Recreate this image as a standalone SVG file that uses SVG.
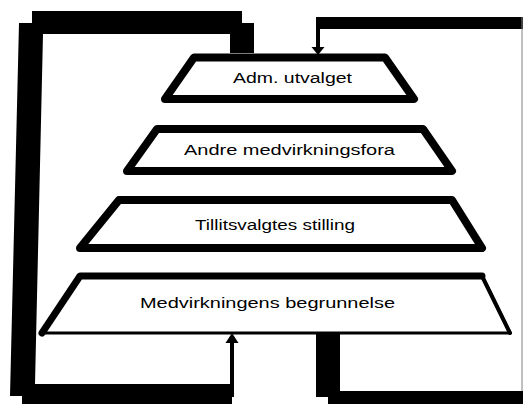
<svg xmlns="http://www.w3.org/2000/svg" width="523" height="404" viewBox="0 0 523 404">
<style>
.trap{fill:#fff;stroke:#000;stroke-width:8;stroke-linejoin:round;stroke-linecap:round}
.lbl{font-family:"Liberation Sans",Arial,sans-serif;font-size:14px;fill:#000}
.bar{fill:#000}
</style>
<rect width="523" height="404" fill="#fff"/>
<g id="connectors">
<polygon class="bar" points="32,11 242,11 242,23 254,23 254,53 230,53 230,34 43,34 35,384 232,384 232,404 22,404 22,396 10,396 19,23 32,23"/>
<line x1="232" y1="397" x2="232" y2="342" stroke="#000" stroke-width="4"/>
<polygon class="bar" points="225.5,343 238.5,343 232,333"/>
<rect class="bar" x="316" y="17" width="207" height="12"/>
<line x1="318" y1="20" x2="318" y2="48" stroke="#000" stroke-width="4"/>
<polygon class="bar" points="311.5,47 324.5,47 318,55"/>
<line x1="522" y1="17" x2="522" y2="392" stroke="#808080" stroke-width="1"/>
<polygon class="bar" points="316,334 340,334 340,391 523,391 523,404 328,404 328,397 316,397"/>
</g>
<g id="node-adm">
<polygon class="trap" points="194,57.5 385,57.5 414,99 165,99"/>
<text class="lbl" x="233" y="83" textLength="119" lengthAdjust="spacingAndGlyphs">Adm. utvalget</text>
</g>
<g id="node-andre">
<polygon class="trap" points="157,129 423,129 452,171 127,171"/>
<text class="lbl" x="184" y="155" textLength="211" lengthAdjust="spacingAndGlyphs">Andre medvirkningsfora</text>
</g>
<g id="node-tillits">
<polygon class="trap" points="119,200 452,200 482,248 80,248"/>
<text class="lbl" x="195" y="230" textLength="160" lengthAdjust="spacingAndGlyphs">Tillitsvalgtes stilling</text>
</g>
<g id="node-medv">
<polygon points="80,276 482,276 510,333 42,333" fill="#fff" stroke="#000" stroke-width="3" stroke-linejoin="round"/>
<polyline points="42,333 80,276 482,276" fill="none" stroke="#000" stroke-width="7" stroke-linejoin="round" stroke-linecap="round"/>
<line x1="482" y1="276" x2="510" y2="333" stroke="#000" stroke-width="4" stroke-linecap="round"/>
<text class="lbl" x="140" y="308" textLength="255" lengthAdjust="spacingAndGlyphs">Medvirkningens begrunnelse</text>
</g>
</svg>
